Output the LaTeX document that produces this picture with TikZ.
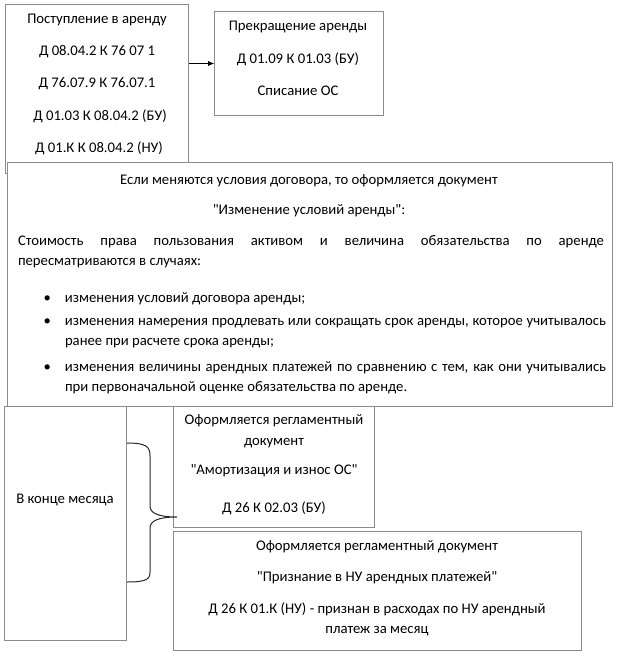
\documentclass[tikz,border=0pt]{standalone}
\usepackage{fontspec}
\setmainfont{Carlito}[Ligatures=TeXOff]
\usetikzlibrary{arrows.meta}

\begin{document}
\begin{tikzpicture}[x=1pt, y=-1pt,
  every node/.style={font=\fontsize{14.7}{20}\selectfont, inner sep=0pt},
  frame/.style={draw=black!45, line width=1pt, fill=white, anchor=north west},
  item/.style={text width=541pt, align=justify}]
  \useasboundingbox (0,0) rectangle (618,657);

  % Lease start
  \node[frame, minimum width=183pt, minimum height=169pt] (postup) at (5,4) {};
  \node (p1) at (97,20) {Поступление в аренду};
  \node (p2) at (97,52) {Д 08.04.2 К 76 07 1};
  \node (p3) at (97,84) {Д 76.07.9 К 76.07.1};
  \node (p4) at (100,116) {Д 01.03 К 08.04.2 (БУ)};
  \node (p5) at (99,148) {Д 01.К К 08.04.2 (НУ)};

  % Lease end
  \node[frame, minimum width=169pt, minimum height=104pt] (prekr) at (214,11) {};
  \node (k1) at (298,27) {Прекращение аренды};
  \node (k2) at (298,59) {Д 01.09 К 01.03 (БУ)};
  \node (k3) at (298,91) {Списание ОС};
  \draw[-{Latex[length=6pt,width=5pt]}] (postup.east |- prekr.west) -- (prekr.west);

  % Change of terms
  \node[frame, minimum width=605pt, minimum height=244pt] (izmen) at (7,162) {};
  \node (i1) at (309,181) {Если меняются условия договора, то оформляется документ};
  \node (i2) at (309,211) {"Изменение условий аренды":};
  \node[text width=586pt, align=justify] (cost) at (311,252)
    {Стоимость права пользования активом и величина обязательства по аренде\linebreak
     пересматриваются в случаях:};
  \node[item] (it1) at (335.5,299) {\llap{\textbullet\hspace{14pt}}изменения условий договора аренды;};
  \node[item] (it2) at (335.5,333.5) {\llap{\textbullet\hspace{14pt}}изменения намерения продлевать
    или сокращать срок аренды, которое учитывалось\linebreak ранее при расчете срока аренды;};
  \node[item] (it3) at (335.5,378) {\llap{\textbullet\hspace{14pt}}изменения величины арендных
    платежей по сравнению с тем, как они учитывались\linebreak при первоначальной оценке
    обязательства по аренде.};

  % Month end
  \node[frame, minimum width=122pt, minimum height=234pt] (konec) at (4,406) {};
  \node (m1) at (65,500) {В конце месяца};
  \node[frame, minimum width=201pt, minimum height=121pt] (amort) at (173,406) {};
  \node (a1) at (274,421) {Оформляется регламентный};
  \node (a2) at (274,443) {документ};
  \node (a3) at (274,471) {"Амортизация и износ ОС"};
  \node (a4) at (274,508) {Д 26 К 02.03 (БУ)};
  \node[frame, minimum width=408pt, minimum height=119pt] (priznan) at (173,531) {};
  \node (n1) at (377,547) {Оформляется регламентный документ};
  \node (n2) at (377,578) {"Признание в НУ арендных платежей"};
  \node (n3) at (377,609) {Д 26 К 01.К (НУ) - признан в расходах по НУ арендный};
  \node (n4) at (377,631) {платеж за месяц};
  % Brace
  \coordinate (brtop) at (127,443);
  \coordinate (brtip) at (177,517);
  \coordinate (brbot) at (127,582);
  \draw[line width=1pt, black!85] (brtop) .. controls (147,443) and (150,447) .. (150,456)
    -- (150,506) .. controls (150,513) and (158,517) .. (brtip)
    .. controls (158,517) and (150,521) .. (150,528)
    -- (150,572) .. controls (150,579) and (147,582) .. (brbot);
\end{tikzpicture}
\end{document}
